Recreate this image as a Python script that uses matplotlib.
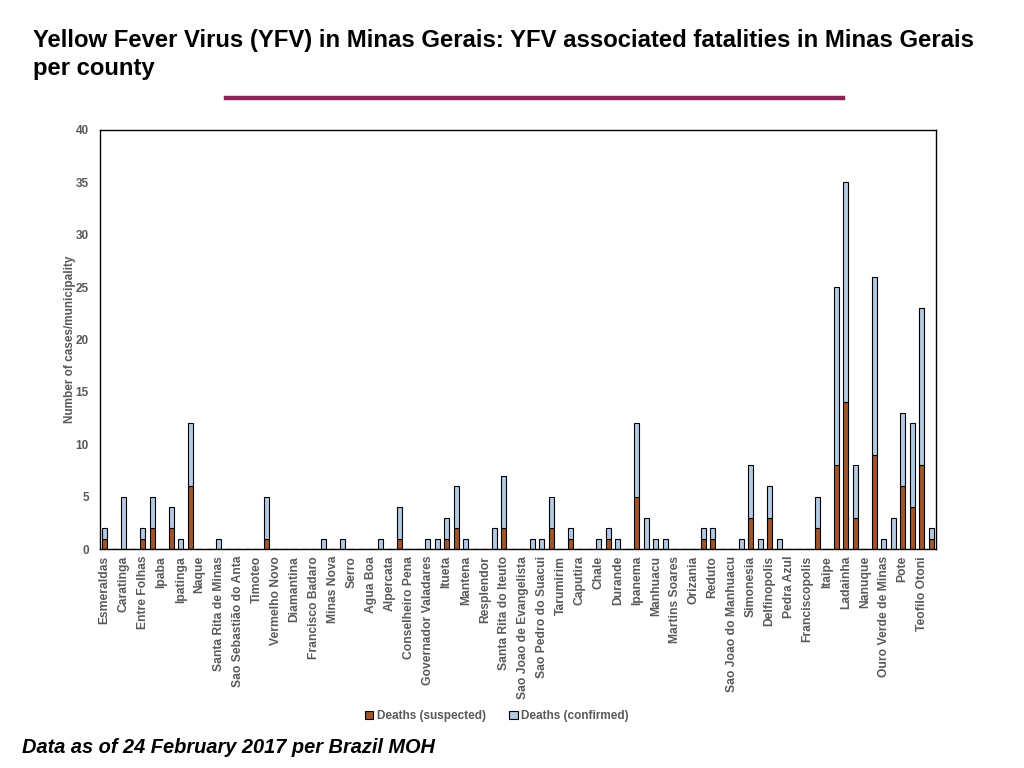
import matplotlib
matplotlib.use("Agg")
import matplotlib.pyplot as plt
import numpy as np
from matplotlib.patches import Patch
from matplotlib.lines import Line2D

plt.rcParams['font.family'] = ['Liberation Sans', 'DejaVu Sans']

# Shown county labels (every other category is labelled in the original)
labels = ["Esmeraldas", "Caratinga", "Entre Folhas", "Ipaba", "Ipatinga", "Naque",
          "Santa Rita de Minas", "Sao Sebastião do Anta", "Timoteo", "Vermelho Novo",
          "Diamantina", "Francisco Badaro", "Minas Nova", "Serro", "Agua Boa",
          "Alpercata", "Conselheiro Pena", "Governador Valadares", "Itueta", "Mantena",
          "Resplendor", "Santa Rita do Iteuto", "Sao Joao de Evangelista",
          "Sao Pedro do Suacui", "Tarumirim", "Caputira", "Chale", "Durande", "Ipanema",
          "Manhuacu", "Martins Soares", "Orizania", "Reduto", "Sao Joao do Manhuacu",
          "Simonesia", "Delfinopolis", "Pedra Azul", "Franciscopolis", "Itaipe",
          "Ladainha", "Nanuque", "Ouro Verde de Minas", "Pote", "Teofilo Otoni"]

# Values for all 88 municipalities (in chart order)
deaths_suspected = [1, 0, 0, 0, 1, 2, 0, 2, 0, 6,
                    0, 0, 0, 0, 0, 0, 0, 1, 0, 0,
                    0, 0, 0, 0, 0, 0, 0, 0, 0, 0,
                    0, 1, 0, 0, 0, 0, 1, 2, 0, 0,
                    0, 0, 2, 0, 0, 0, 0, 2, 0, 1,
                    0, 0, 0, 1, 0, 0, 5, 0, 0, 0,
                    0, 0, 0, 1, 1, 0, 0, 0, 3, 0,
                    3, 0, 0, 0, 0, 2, 0, 8, 14, 3,
                    0, 9, 0, 0, 6, 4, 8, 1]
deaths_confirmed = [1, 0, 5, 0, 1, 3, 0, 2, 1, 6,
                    0, 0, 1, 0, 0, 0, 0, 4, 0, 0,
                    0, 0, 0, 1, 0, 1, 0, 0, 0, 1,
                    0, 3, 0, 0, 1, 1, 2, 4, 1, 0,
                    0, 2, 5, 0, 0, 1, 1, 3, 0, 1,
                    0, 0, 1, 1, 1, 0, 7, 3, 1, 1,
                    0, 0, 0, 1, 1, 0, 0, 1, 5, 1,
                    3, 1, 0, 0, 0, 3, 0, 17, 21, 5,
                    0, 17, 1, 3, 7, 8, 15, 1]

brown = "#A0562A"
blue = "#B3CAE3"
gray = "#595959"

fig = plt.figure(figsize=(10.24, 7.68), dpi=100)
ax = fig.add_axes([100/1024, 1-549/768, 836/1024, 419/768])

x = np.arange(len(deaths_suspected))
ax.bar(x, deaths_suspected, width=0.55, color=brown, edgecolor="black", linewidth=0.8,
       label="Deaths (suspected)")
ax.bar(x, deaths_confirmed, width=0.55, bottom=deaths_suspected, color=blue,
       edgecolor="black", linewidth=0.8, label="Deaths (confirmed)")

ax.set_xlim(-0.5, len(x) - 0.5)
ax.set_ylim(0, 40)
ax.set_yticks(range(0, 41, 5))
ax.set_xticks(x[::2])
ax.set_xticklabels(labels, rotation=90, fontsize=8.7, fontweight="bold", color=gray)
ax.tick_params(axis="x", length=0, pad=5)
ax.tick_params(axis="y", length=0, pad=8)
for t in ax.get_yticklabels():
    t.set_fontsize(8.5)
    t.set_fontweight("bold")
    t.set_color(gray)
ax.set_ylabel("Number of cases/municipality", fontsize=8.5, fontweight="bold", color=gray,
              labelpad=0)
for s in ax.spines.values():
    s.set_linewidth(1.0)
    s.set_color("black")

handles = [Patch(facecolor=brown, edgecolor="black", linewidth=0.8),
           Patch(facecolor=blue, edgecolor="black", linewidth=0.8)]
fig.legend(handles, ["Deaths (suspected)", "Deaths (confirmed)"], loc="center",
           bbox_to_anchor=(497/1024, 1-716/768), ncol=2, frameon=False,
           prop={"size": 8.5, "weight": "bold"}, labelcolor=gray, handlelength=0.7,
           handleheight=0.7, handletextpad=0.3, columnspacing=2.0)

fig.text(33/1024, 1-47/768, "Yellow Fever Virus (YFV) in Minas Gerais: YFV associated fatalities in Minas Gerais",
         fontsize=17.2, fontweight="bold", ha="left", va="baseline")
fig.text(33/1024, 1-75/768, "per county", fontsize=17.2, fontweight="bold", ha="left",
         va="baseline")
fig.add_artist(Line2D([226/1024, 843/1024], [1-98/768, 1-98/768], color="#8B2456",
                      linewidth=3.2, transform=fig.transFigure))
fig.text(22/1024, 1-753/768, "Data as of 24 February 2017 per Brazil MOH", fontsize=14.4,
         fontweight="bold", fontstyle="italic", ha="left", va="baseline")

fig.savefig("out.png", dpi=100)
